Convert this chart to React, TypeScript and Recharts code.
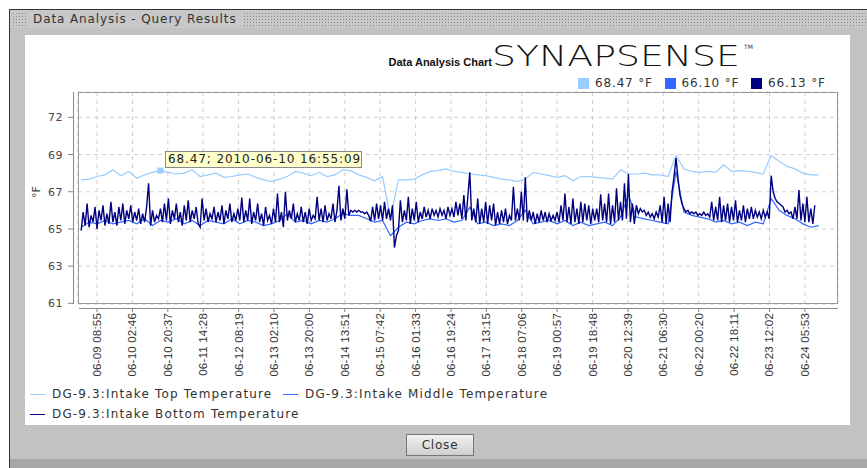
import React from "react";
import { LineChart, Line, XAxis, YAxis, CartesianGrid, ReferenceDot } from "recharts";

// hours are counted from 06-09 08:55
const SAMPLE_START = -8;

// DG-9.3 Intake Top, one reading every 4 h
const topTemps = [
  68.3, 68.35, 68.5, 68.6, 68.9, 68.55, 68.8, 68.4, 68.6, 68.75,
  68.85, 68.75, 68.65, 68.7, 68.9, 68.5, 68.6, 68.7, 68.45, 68.5,
  68.6, 68.65, 68.45, 68.3, 68.2, 68.35, 68.5, 68.8, 68.7, 68.55,
  68.75, 68.5, 68.6, 68.9, 68.85, 68.6, 68.45, 68.25, 68.5, 66.05,
  68.3, 68.3, 68.35, 68.6, 68.8, 68.85, 68.95, 68.8, 68.75, 68.65,
  68.6, 68.55, 68.45, 68.35, 68.3, 68.2, 68.35, 68.75, 68.65, 68.55,
  68.45, 68.55, 68.25, 68.5, 68.5, 68.45, 68.4, 68.35, 68.9, 68.65,
  68.65, 68.7, 68.6, 68.6, 68.5, 69.75, 68.95, 68.8, 68.75, 68.8,
  68.75, 69.2, 68.8, 68.85, 68.8, 68.75, 68.65, 69.75, 69.4, 69.1,
  68.95, 68.7, 68.6, 68.6,
];

// DG-9.3 Intake Middle, one reading every 4 h
const midTemps = [
  65.5, 65.8, 65.7, 65.9, 65.7, 65.8, 65.9, 65.7, 66.0, 65.6,
  65.9, 65.8, 66.0, 65.7, 65.9, 65.6, 65.9, 65.8, 65.7, 66.0,
  65.7, 65.9, 65.8, 65.6, 65.7, 65.9, 66.3, 65.8, 65.9, 65.7,
  65.9, 65.8, 66.0, 66.3, 66.2, 66.2, 66.0, 65.8, 65.9, 65.0,
  65.5, 65.8, 65.7, 65.9, 66.0, 65.9, 66.0, 65.8, 65.9, 66.7,
  65.7, 65.8, 65.6, 65.7, 65.6, 65.9, 66.5, 65.7, 65.8, 65.9,
  65.7, 65.9, 65.6, 65.8, 65.6, 65.7, 65.8, 65.6, 66.1, 67.4,
  66.1, 66.0, 65.9, 65.8, 65.7, 68.8, 66.4, 66.2, 66.1, 66.0,
  65.8, 65.9, 65.7, 65.8, 65.6, 65.8, 65.7, 67.2, 66.5, 66.2,
  66.0, 65.7, 65.5, 65.6,
];

// DG-9.3 Intake Bottom, one reading every hour
const bottomTemps = [
  65.3, 66.4, 65.6, 66.9, 65.5, 66.2, 65.8, 66.7, 65.4, 66.5, 65.9, 66.8, 65.6, 66.3, 65.7, 67.0, 65.8, 66.4, 65.6, 66.7,
  65.9, 66.9, 65.7, 66.5, 66.0, 66.8, 65.8, 66.4, 65.9, 66.6, 65.7, 66.3, 65.8, 66.7, 68.1, 65.6, 66.5, 65.8, 66.2, 66.0,
  66.6, 65.8, 66.9, 65.9, 67.2, 65.7, 66.5, 66.0, 66.9, 65.8, 66.4, 65.6, 66.8, 65.9, 67.1, 65.8, 66.5, 66.0, 66.7, 65.7,
  65.5, 67.2, 65.9, 66.6, 65.8, 66.3, 66.0, 66.7, 65.8, 66.4, 65.9, 66.8, 65.7, 66.5, 66.0, 66.9, 65.8, 66.3, 65.9, 66.6,
  65.9, 67.25, 65.8, 66.5, 65.9, 67.2, 65.7, 66.4, 65.9, 66.9, 65.8, 66.3, 65.6, 66.7, 65.9, 66.2, 65.7, 66.6, 65.8, 67.5,
  65.8, 66.4, 65.5, 67.6, 65.9, 66.5, 66.0, 66.9, 65.8, 66.3, 65.9, 66.7, 65.8, 66.4, 65.7, 66.6, 65.9, 66.2, 66.0, 67.3,
  65.9, 66.6, 65.8, 66.8, 65.9, 66.3, 66.0, 66.9, 65.8, 66.5, 67.95, 65.9, 66.6, 66.0, 67.75, 66.2, 66.5, 66.4, 66.5, 66.4,
  66.5, 66.4, 66.4, 66.3, 66.4, 66.2, 65.85, 66.7, 65.9, 66.9, 66.0, 66.8, 65.9, 67.0, 66.0, 66.6, 65.9, 66.8, 64.3, 65.0,
  65.3, 67.1, 65.8, 66.5, 65.9, 67.3, 65.7, 66.6, 65.9, 67.0, 65.8, 66.4, 66.0, 66.7, 66.1, 66.5, 66.0, 66.6, 66.2, 66.5,
  66.1, 66.6, 66.2, 66.5, 66.0, 66.7, 66.2, 66.6, 66.1, 67.0, 66.2, 66.9, 66.0, 67.4, 65.9, 67.3, 68.75, 65.9, 66.6, 65.8,
  67.2, 65.7, 66.6, 65.8, 67.0, 65.7, 66.8, 65.9, 66.9, 65.6, 66.4, 65.7, 66.5, 65.8, 66.6, 65.7, 66.2, 65.9, 67.9, 65.9,
  66.6, 65.9, 67.6, 65.9, 68.45, 65.8, 66.5, 65.9, 66.4, 65.7, 66.3, 65.8, 66.5, 65.9, 66.4, 65.8, 66.3, 65.9, 66.2, 65.9,
  66.4, 65.8, 66.8, 65.9, 67.5, 65.8, 66.7, 65.7, 67.2, 65.8, 66.6, 65.7, 67.0, 65.8, 66.9, 65.9, 66.8, 65.7, 66.6, 65.9,
  66.6, 65.8, 67.45, 65.9, 66.9, 65.8, 67.5, 65.7, 66.8, 65.8, 67.8, 65.9, 67.0, 65.9, 68.1, 66.0, 68.65, 65.8, 66.9, 65.7,
  66.8, 66.3, 66.6, 66.4, 66.5, 66.2, 66.4, 66.1, 66.3, 66.0, 66.4, 66.1, 66.8, 65.8, 67.3, 65.7, 66.9, 65.8, 67.6, 68.5,
  69.6, 68.4, 67.4, 66.9, 66.6, 66.4, 66.5, 66.3, 66.4, 66.3, 66.4, 66.2, 66.3, 66.2, 66.4, 66.2, 66.3, 66.1, 67.0, 65.9,
  66.7, 65.9, 67.3, 65.8, 66.8, 65.9, 66.9, 65.8, 66.7, 65.9, 67.1, 65.8, 66.5, 65.9, 66.8, 65.8, 66.6, 66.0, 66.7, 66.0,
  66.5, 66.1, 66.4, 66.0, 66.5, 66.1, 66.4, 66.0, 68.55, 67.6, 67.2, 67.0, 66.9, 66.8, 66.7, 66.4, 66.5, 66.3, 66.4, 66.0,
  66.7, 66.0, 67.7, 65.9, 66.9, 65.8, 67.3, 65.8, 66.6, 65.7, 66.8,
];

const xTickHours = [
  0, 17.85, 35.7, 53.55, 71.4, 89.25, 107.1, 124.95, 142.8, 160.65, 178.5,
  196.35, 214.2, 232.05, 249.9, 267.75, 285.6, 303.45, 321.3, 339.15, 357,
];
const xTickLabels = [
  "06-09 08:55", "06-10 02:46", "06-10 20:37", "06-11 14:28", "06-12 08:19",
  "06-13 02:10", "06-13 20:00", "06-14 13:51", "06-15 07:42", "06-16 01:33",
  "06-16 19:24", "06-17 13:15", "06-18 07:06", "06-19 00:57", "06-19 18:48",
  "06-20 12:39", "06-21 06:30", "06-22 00:20", "06-22 18:11", "06-23 12:02",
  "06-24 05:53",
];
const yTickValues = [61, 63.2, 65.4, 67.6, 69.8, 72];
const yTickLabels = ["61", "63", "65", "67", "69", "72"];

const seriesNames = [
  "DG-9.3:Intake Top Temperature",
  "DG-9.3:Intake Middle Temperature",
  "DG-9.3:Intake Bottom Temperature",
];
const lastReadings = ["68.47 °F", "66.10 °F", "66.13 °F"];
const COLORS = ["#99ccff", "#3366ff", "#000080"];

const markerHour = 32;
const markerTemp = 68.85;
const markerText = "68.47; 2010-06-10 16:55:09";

const toPoints = (step: number, values: number[]) =>
  values.map((v, i) => ({ t: SAMPLE_START + i * step, v }));

const topData = toPoints(4, topTemps);
const midData = toPoints(4, midTemps);
const bottomData = toPoints(1, bottomTemps);

// layout
const W = 867;
const H = 468;
const PLOT_L = 78;
const PLOT_T = 92;
const PLOT_R = 838;
const PLOT_B = 304;
const X_AXIS_H = 60;

const YTick = ({ y, payload }: any) => {
  const i = yTickValues.indexOf(payload.value);
  return (
    <g>
      <line x1={PLOT_L - 10} x2={PLOT_L - 5} y1={y} y2={y} stroke="#888" />
      <text
        x={PLOT_L - 15}
        y={y}
        dy={4}
        textAnchor="end"
        fontSize={11}
        fontFamily="DejaVu Sans"
        letterSpacing={0.5}
        fill="#444"
      >
        {yTickLabels[i]}
      </text>
    </g>
  );
};

const XTick = ({ x, payload }: any) => {
  const i = xTickHours.indexOf(payload.value);
  return (
    <g transform={`translate(${x},${PLOT_B + 9})`}>
      <line x1={0} x2={0} y1={-5} y2={-1} stroke="#888" />
      <text
        transform="rotate(-90)"
        textAnchor="end"
        dy={4}
        fontSize={11.5}
        letterSpacing={0.2}
        fontFamily="Liberation Sans"
        fill="#333"
      >
        {xTickLabels[i]}
      </text>
    </g>
  );
};

const grip = {
  backgroundImage: "radial-gradient(#8a8a8a 0.7px, transparent 0.9px)",
  backgroundSize: "3px 3px",
};

export default function App() {
  return (
    <div
      style={{
        position: "absolute",
        left: 0,
        top: 0,
        width: W,
        height: H,
        background: "#fff",
        overflow: "hidden",
        fontFamily: "DejaVu Sans",
        color: "#333",
      }}
    >
      {/* window frame */}
      <div
        style={{
          position: "absolute",
          left: 9,
          top: 9,
          width: W - 9,
          height: H - 9,
          background: "#c2c2c2",
          borderLeft: "1px solid #333",
          borderTop: "1px solid #333",
          boxSizing: "border-box",
        }}
      />
      <div style={{ position: "absolute", left: 10, top: 10, width: W - 10, height: 18, background: "#c8c8c8" }} />
      <div style={{ position: "absolute", left: 12, top: 12, width: 16, height: 14, ...grip }} />
      <div style={{ position: "absolute", left: 243, top: 12, width: W - 243, height: 14, ...grip }} />
      <div style={{ position: "absolute", left: 33, top: 11, fontSize: 12, letterSpacing: 0.9, lineHeight: "16px", color: "#333" }}>
        Data Analysis - Query Results
      </div>
      <div style={{ position: "absolute", left: 10, top: 459, width: W - 10, height: 9, background: "#a8a8a8" }} />

      {/* white panel */}
      <div style={{ position: "absolute", left: 25, top: 35, width: 825, height: 390, background: "#fff" }} />

      {/* heading + logo */}
      <div
        style={{
          position: "absolute",
          left: 292,
          top: 56,
          width: 200,
          textAlign: "right",
          fontFamily: "Liberation Sans",
          fontWeight: "bold",
          fontSize: 11,
          color: "#111",
        }}
      >
        Data Analysis Chart
      </div>
      <svg style={{ position: "absolute", left: 490, top: 40 }} width={270} height={32}>
        <text
          x={2}
          y={26}
          textLength={248}
          lengthAdjust="spacingAndGlyphs"
          fontSize={29}
          fontWeight={200}
          fontFamily="DejaVu Sans"
          fill="#111"
        >
          SYNAPSENSE
        </text>
        <text x={254} y={9} fontSize={6} fontFamily="DejaVu Sans" fill="#333">
          TM
        </text>
      </svg>

      {/* last readings legend */}
      {lastReadings.map((r, i) => (
        <div
          key={r}
          style={{
            position: "absolute",
            left: 578 + i * 86.5,
            top: 76,
            display: "flex",
            alignItems: "center",
            fontSize: 12,
            letterSpacing: 0.85,
          }}
        >
          <span style={{ width: 11, height: 11, background: COLORS[i], display: "inline-block", marginRight: 6 }} />
          <span>{r}</span>
        </div>
      ))}

      <div style={{ position: "absolute", left: 0, top: 0 }}>
        <LineChart
          width={W}
          height={H}
          margin={{ top: PLOT_T, right: W - PLOT_R, left: 0, bottom: H - PLOT_B - X_AXIS_H }}
        >
          <CartesianGrid stroke="#d0d0d0" strokeDasharray="4 4" />
          <XAxis
            dataKey="t"
            type="number"
            domain={[-9.6, 373.7]}
            ticks={xTickHours}
            interval={0}
            allowDataOverflow
            height={X_AXIS_H}
            axisLine={false}
            tickLine={false}
            tick={XTick}
          />
          <YAxis
            type="number"
            domain={[60.96, 73.5]}
            ticks={yTickValues}
            interval={0}
            allowDataOverflow
            width={PLOT_L}
            axisLine={false}
            tickLine={false}
            tick={YTick}
          />
          <Line data={topData} dataKey="v" name={seriesNames[0]} stroke={COLORS[0]} strokeWidth={1.2} dot={false} isAnimationActive={false} />
          <Line data={midData} dataKey="v" name={seriesNames[1]} stroke={COLORS[1]} strokeWidth={1.2} dot={false} isAnimationActive={false} />
          <Line data={bottomData} dataKey="v" name={seriesNames[2]} stroke={COLORS[2]} strokeWidth={1.4} dot={false} isAnimationActive={false} />
          <ReferenceDot
            x={markerHour}
            y={markerTemp}
            shape={(p: any) => <rect x={p.cx - 3} y={p.cy - 3} width={6} height={6} fill={COLORS[0]} />}
          />
        </LineChart>
      </div>

      {/* plot border and detached axis lines */}
      <div
        style={{
          position: "absolute",
          left: PLOT_L,
          top: PLOT_T,
          width: PLOT_R - PLOT_L,
          height: PLOT_B - PLOT_T,
          border: "1px solid #999",
          boxSizing: "border-box",
        }}
      />
      <div style={{ position: "absolute", left: PLOT_L - 5, top: PLOT_T, width: 1, height: PLOT_B - PLOT_T, background: "#888" }} />
      <div style={{ position: "absolute", left: PLOT_L + 1, top: PLOT_B + 4, width: PLOT_R - PLOT_L - 1, height: 1, background: "#888" }} />
      <div
        style={{
          position: "absolute",
          left: 30,
          top: 198,
          fontSize: 11,
          transform: "rotate(-90deg)",
          transformOrigin: "left top",
          color: "#444",
        }}
      >
        °F
      </div>

      {/* hover readout */}
      <div
        style={{
          position: "absolute",
          left: 165,
          top: 151,
          width: 197,
          height: 17,
          background: "#ffffcc",
          border: "1px solid #888",
          boxSizing: "border-box",
          fontSize: 12,
          letterSpacing: 0.9,
          lineHeight: "15px",
          paddingLeft: 2,
          color: "#222",
          whiteSpace: "nowrap",
        }}
      >
        {markerText}
      </div>

      {/* series legend */}
      {seriesNames.map((n, i) => (
        <div
          key={n}
          style={{
            position: "absolute",
            left: i === 1 ? 283 : 30,
            top: i === 2 ? 406 : 386,
            display: "flex",
            alignItems: "center",
            fontSize: 12,
            letterSpacing: 1.15,
            lineHeight: "16px",
            whiteSpace: "nowrap",
          }}
        >
          <span style={{ width: 15, height: 1, background: COLORS[i], display: "inline-block", marginRight: 7 }} />
          <span>{n}</span>
        </div>
      ))}

      {/* close button */}
      <div
        style={{
          position: "absolute",
          left: 406,
          top: 434,
          width: 68,
          height: 22,
          boxSizing: "border-box",
          border: "1px solid #777",
          background: "linear-gradient(#f2f2f2, #cfcfcf)",
          fontSize: 12,
          letterSpacing: 0.8,
          lineHeight: "20px",
          textAlign: "center",
          color: "#333",
        }}
      >
        Close
      </div>
    </div>
  );
}
